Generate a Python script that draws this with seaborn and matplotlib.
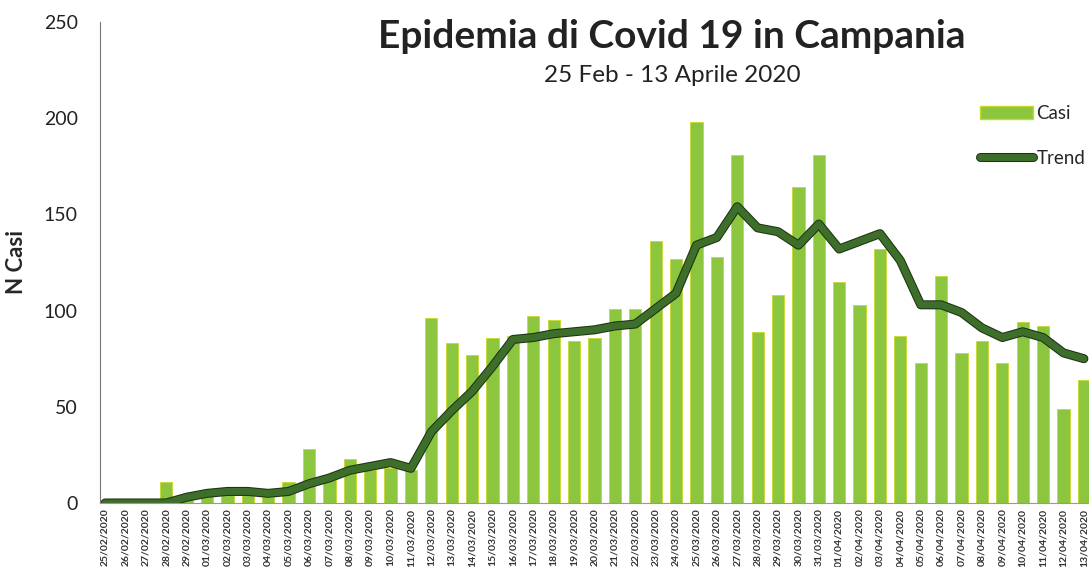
import numpy as np
import pandas as pd
import matplotlib
matplotlib.use("Agg")
import matplotlib.pyplot as plt
import matplotlib.patheffects as pe
from matplotlib.patches import Patch
from matplotlib.lines import Line2D
import seaborn as sns

dates = pd.date_range("2020-02-25", "2020-04-13", freq="D")
date_labels = [d.strftime("%d/%m/%Y") for d in dates]

casi = [0, 0, 0, 11, 2, 4, 4, 5, 3, 11, 28, 12, 23, 17, 18, 17,
        96, 83, 77, 86, 87, 97, 95, 84, 86, 101, 101, 136, 127, 198, 128, 181,
        89, 108, 164, 181, 115, 103, 132, 87, 73, 118, 78, 84, 73, 94, 92, 49, 64]

trend = [0, 0, 0, 0, 3, 5, 6, 6, 5, 6, 10, 13, 17, 19, 21, 18,
         37, 48, 58, 71, 85, 86, 88, 89, 90, 92, 93, 101, 109, 134, 138, 154,
         143, 141, 134, 145, 132, 136, 140, 126, 103, 103, 99, 91, 86, 89, 86, 78, 75]

df = pd.DataFrame({"idx": np.arange(len(casi)), "data": date_labels,
                   "casi": casi, "trend": trend})

sns.set_style("white")
plt.rcParams["font.family"] = ["Lato", "DejaVu Sans"]

bar_col = "#8cc63f"
line_col = "#3d6f2a"
outline = [pe.Stroke(linewidth=6.5, foreground="#1c3314"), pe.Normal()]

fig = plt.figure(figsize=(10.89, 5.67), dpi=100)
ax = fig.add_axes([0.0918, 0.1129, 0.9082, 0.8483])

sns.barplot(data=df, x="idx", y="casi", color=bar_col, width=0.6,
            edgecolor="#c8d82a", linewidth=0.6, saturation=1, ax=ax)
ax.plot(df["idx"], df["trend"], color=line_col, lw=5, solid_joinstyle="round",
        solid_capstyle="round", path_effects=outline)

ax.set_xlim(-0.25, 48.25)
ax.set_ylim(0, 250)
ax.set_yticks([0, 50, 100, 150, 200, 250])
ax.tick_params(axis="y", labelsize=14, length=4, pad=12, colors="#555555", labelcolor="#222222")
ax.set_xticks(df["idx"])
ax.set_xticklabels(df["data"], rotation=90, fontsize=7.5, fontweight="bold", color="#333333")
ax.tick_params(axis="x", length=2, pad=2, colors="#8888bb", labelcolor="#333333")

for s in ["top", "right"]:
    ax.spines[s].set_visible(False)
ax.spines["left"].set_color("#777777")
ax.spines["left"].set_linewidth(0.8)
ax.spines["bottom"].set_color("#999999")
ax.spines["bottom"].set_linewidth(0.8)

ax.set_xlabel("")
ax.set_ylabel("N Casi", fontsize=16, fontweight="bold", labelpad=12)

fig.text(0.617, 0.936, "Epidemia di Covid 19 in Campania", ha="center", va="center",
         fontsize=28, fontweight="bold", color="#222222")
fig.text(0.617, 0.866, "25 Feb - 13 Aprile 2020", ha="center", va="center",
         fontsize=17.5, color="#222222")

handles = [Patch(facecolor=bar_col, edgecolor="#c8d82a"),
           Line2D([0], [0], color=line_col, lw=5, path_effects=outline)]
fig.legend(handles, ["Casi", "Trend"], loc="upper right", bbox_to_anchor=(1.012, 0.845),
           frameon=False, fontsize=13.5, handlelength=2.8, handletextpad=0.2,
           labelspacing=1.5)

fig.savefig("out.png", dpi=100)
